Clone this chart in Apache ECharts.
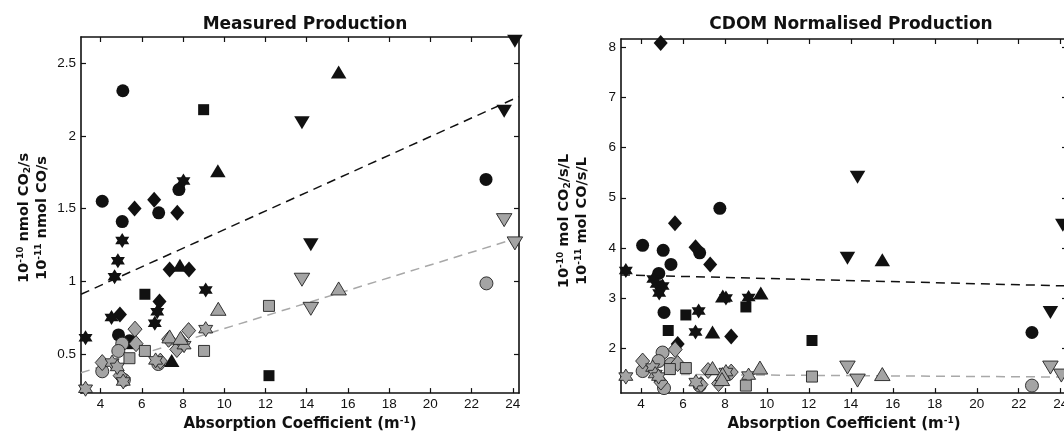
<!DOCTYPE html>
<html><head><meta charset="utf-8">
<script src="https://cdn.jsdelivr.net/npm/echarts@6/dist/echarts.min.js"></script>
<style>html,body{margin:0;padding:0;background:#fff;overflow:hidden}#c{width:1072px;height:437px}</style>
</head><body><div id="c"></div>
<script>
// ---------- DATA ----------
const xTicks = [4, 6, 8, 10, 12, 14, 16, 18, 20, 22, 24];
const yTicksMeasured = [0.5, 1, 1.5, 2, 2.5];
const yTicksNorm = [2, 3, 4, 5, 6, 7, 8];
const xRange = [3.05, 24.3];
const yRangeMeasured = [0.23, 2.68];
const yRangeNorm = [1.1, 8.17];

// Measured production, CO2 (black, 1e-10 nmol/s)
const mCO2_circle = [[5.08,2.31],[4.08,1.55],[5.05,1.41],[6.82,1.47],[7.8,1.63],[22.7,1.70],[4.87,0.63],[5.4,0.59]];
const mCO2_diamond = [[5.65,1.50],[6.6,1.56],[7.72,1.47],[7.35,1.08],[8.29,1.08],[6.86,0.86],[4.94,0.77]];
const mCO2_star = [[8.02,1.69],[5.05,1.28],[4.84,1.14],[4.68,1.03],[9.1,0.94],[6.75,0.79],[6.63,0.71],[4.53,0.75],[3.27,0.61]];
const mCO2_square = [[9.0,2.18],[12.17,0.35],[6.15,0.91],[5.35,0.57]];
const mCO2_triUp = [[9.69,1.76],[15.55,2.44],[7.85,1.11],[7.45,0.455]];
const mCO2_triDown = [[13.77,2.09],[23.58,2.17],[24.1,2.65],[14.2,1.25]];
// Measured production, CO (grey, 1e-11 nmol/s)
const mCO_circle = [[5.05,0.57],[4.86,0.52],[4.08,0.38],[5.13,0.32],[6.8,0.43],[22.72,0.985]];
const mCO_diamond = [[5.67,0.67],[5.72,0.57],[4.08,0.44],[4.95,0.35],[6.9,0.45],[8.27,0.66],[7.7,0.53],[7.95,0.58],[7.3,0.6]];
const mCO_star = [[4.56,0.44],[4.81,0.41],[5.1,0.31],[3.27,0.26],[6.67,0.455],[9.1,0.67],[8.05,0.56]];
const mCO_square = [[5.4,0.47],[6.15,0.52],[9.02,0.52],[12.17,0.83]];
const mCO_triUp = [[9.71,0.81],[7.35,0.62],[7.88,0.61],[15.55,0.95]];
const mCO_triDown = [[13.77,1.01],[14.2,0.81],[23.58,1.42],[24.1,1.26]];
// CDOM normalised, CO2 (black)
const nCO2_circle = [[4.08,4.05],[5.06,3.95],[5.43,3.67],[6.8,3.9],[4.85,3.49],[5.1,2.71],[7.76,4.79],[22.63,2.31]];
const nCO2_diamond = [[4.94,8.09],[5.62,4.49],[6.6,4.01],[7.3,3.67],[8.3,2.23],[5.75,2.08]];
const nCO2_star = [[3.28,3.55],[4.59,3.38],[4.75,3.28],[5.03,3.24],[4.87,3.1],[8.05,3.0],[9.13,3.01],[6.75,2.74],[6.6,2.32]];
const nCO2_square = [[5.3,2.35],[6.14,2.66],[9.0,2.82],[12.15,2.15]];
const nCO2_triUp = [[7.9,3.04],[9.71,3.1],[15.5,3.76],[7.41,2.32]];
const nCO2_triDown = [[13.84,3.79],[14.32,5.41],[23.51,2.71],[24.1,4.45]];
// CDOM normalised, CO (grey)
const nCO_circle = [[5.03,1.91],[4.84,1.74],[4.08,1.54],[5.43,1.68],[5.1,1.2],[6.8,1.25],[22.63,1.25]];
const nCO_diamond = [[5.63,1.97],[4.08,1.74],[5.75,1.69],[4.95,1.32],[6.86,1.27],[7.2,1.55],[8.3,1.52],[7.7,1.29]];
const nCO_star = [[3.28,1.43],[4.56,1.61],[4.68,1.48],[4.84,1.43],[6.62,1.32],[8.05,1.52],[9.13,1.45]];
const nCO_square = [[5.38,1.58],[6.14,1.6],[9.0,1.25],[12.15,1.43]];
const nCO_triUp = [[7.41,1.6],[7.89,1.48],[7.86,1.38],[9.67,1.61],[15.5,1.48]];
const nCO_triDown = [[13.84,1.61],[14.32,1.35],[23.51,1.61],[24.03,1.45]];
// Regression lines (end points)
const mCO2_fit = [[3.05,0.91],[24.3,2.27]];
const mCO_fit = [[3.05,0.37],[24.3,1.30]];
const nCO2_fit = [[3.05,3.46],[24.3,3.24]];
const nCO_fit = [[3.05,1.48],[24.3,1.42]];

// ---------- STYLE ----------
const BOLD = "'DejaVu Sans', sans-serif";
const REG = "'Liberation Sans', Arial, sans-serif";
const INK = '#111';
const GREY = '#a4a4a4';
const HEX = 'path://M0,-10L2.887,-5L8.66,-5L5.774,0L8.66,5L2.887,5L0,10L-2.887,5L-8.66,5L-5.774,0L-8.66,-5L-2.887,-5Z';
const TRI_DOWN = 'path://M0,0L10,0L5,8.66Z';
const SHAPES = {
  circle: {symbol: 'circle', size: 13},
  diamond: {symbol: 'diamond', size: [14, 16]},
  star: {symbol: HEX, size: [14, 15]},
  square: {symbol: 'rect', size: 11},
  triUp: {symbol: 'triangle', size: [15.5, 13]},
  triDown: {symbol: TRI_DOWN, size: [15.5, 13]}
};
function sc(data, shape, grey, panel) {
  const s = SHAPES[shape];
  return {
    type: 'scatter', data: data, xAxisIndex: panel * 2, yAxisIndex: panel * 2,
    symbol: s.symbol, symbolSize: s.size, z: grey ? 3 : 2, clip: false,
    itemStyle: grey ? {color: GREY, borderColor: '#222', borderWidth: 0.9, opacity: 1}
                    : {color: INK, borderColor: INK, borderWidth: 0, opacity: 1},
    emphasis: {disabled: true}, silent: true
  };
}
function fit(data, grey, panel) {
  return {
    type: 'line', data: data, xAxisIndex: panel * 2, yAxisIndex: panel * 2,
    symbol: 'none', z: 1, silent: true,
    lineStyle: {color: grey ? '#a8a8a8' : INK, width: 1.5, type: [9, 6]}
  };
}
function xAx(panel, top) {
  return {
    type: 'value', gridIndex: panel, position: top ? 'top' : 'bottom',
    min: xRange[0], max: xRange[1],
    axisLine: {show: true, onZero: false, lineStyle: {color: INK, width: 1.6}},
    axisTick: {show: true, inside: true, length: 5, customValues: xTicks, lineStyle: {color: INK, width: 1.2}},
    axisLabel: {show: !top, customValues: xTicks, color: INK, fontSize: 13.5, fontFamily: REG, margin: 4},
    splitLine: {show: false},
    name: top ? '' : 'Absorption Coefficient (m{sup|-1})',
    nameLocation: 'middle', nameGap: 21,
    nameTextStyle: {color: INK, fontFamily: BOLD, fontWeight: 'bold', fontSize: 15,
      rich: {sup: {fontFamily: BOLD, fontWeight: 'bold', fontSize: 9, verticalAlign: 'top', color: INK, padding: [0, 0, 8, 0]}}}
  };
}
function yAx(panel, right, rng, ticks) {
  return {
    type: 'value', gridIndex: panel, position: right ? 'right' : 'left',
    min: rng[0], max: rng[1],
    axisLine: {show: true, onZero: false, lineStyle: {color: INK, width: 1.6}},
    axisTick: {show: true, inside: true, length: 5, customValues: ticks, lineStyle: {color: INK, width: 1.2}},
    axisLabel: {show: !right, customValues: ticks, color: INK, fontSize: 13.5, fontFamily: REG, margin: 5},
    splitLine: {show: false}
  };
}
const supRich = {
  b: {fontFamily: BOLD, fontWeight: 'bold', fontSize: 14.5, fill: INK, color: INK},
  sup: {fontFamily: BOLD, fontWeight: 'bold', fontSize: 9, fill: INK, color: INK, verticalAlign: 'top', padding: [0, 0, 7, 0]},
  sub: {fontFamily: BOLD, fontWeight: 'bold', fontSize: 9, fill: INK, color: INK, verticalAlign: 'bottom', padding: [6, 0, 0, 0]}
};
function ylab(x, y, text) {
  return {
    type: 'text', x: x, y: y, rotation: Math.PI / 2, silent: true,
    style: {text: text, rich: supRich, fill: INK, align: 'center', verticalAlign: 'middle',
      textAlign: 'center', textVerticalAlign: 'middle',
      fontFamily: BOLD, fontWeight: 'bold', fontSize: 14.5}
  };
}

const chart = echarts.init(document.getElementById('c'), null, {renderer: 'canvas'});
chart.setOption({
  animation: false,
  backgroundColor: '#fff',
  title: [
    {text: 'Measured Production', left: 300, top: 11, textAlign: 'center',
      textStyle: {fontFamily: BOLD, fontWeight: 'bold', fontSize: 17, color: INK}},
    {text: 'CDOM Normalised Production', left: 846, top: 11, textAlign: 'center',
      textStyle: {fontFamily: BOLD, fontWeight: 'bold', fontSize: 17, color: INK}}
  ],
  grid: [
    {left: 81, top: 37, width: 438, height: 361, containLabel: false},
    {left: 621, top: 39, width: 446, height: 360, containLabel: false}
  ],
  xAxis: [xAx(0, false), xAx(0, true), xAx(1, false), xAx(1, true)],
  yAxis: [
    yAx(0, false, yRangeMeasured, yTicksMeasured), yAx(0, true, yRangeMeasured, yTicksMeasured),
    yAx(1, false, yRangeNorm, yTicksNorm), yAx(1, true, yRangeNorm, yTicksNorm)
  ],
  graphic: [
    ylab(24, 218, '{b|10}{sup|-10}{b| nmol CO}{sub|2}{b|/s}'),
    ylab(42, 218, '{b|10}{sup|-11}{b| nmol CO/s}'),
    ylab(564, 221, '{b|10}{sup|-10}{b| mol CO}{sub|2}{b|/s/L}'),
    ylab(582, 221, '{b|10}{sup|-11}{b| mol CO/s/L}')
  ],
  series: [
    fit(mCO2_fit, false, 0), fit(mCO_fit, true, 0),
    fit(nCO2_fit, false, 1), fit(nCO_fit, true, 1),
    sc(mCO2_circle, 'circle', false, 0), sc(mCO2_diamond, 'diamond', false, 0),
    sc(mCO2_star, 'star', false, 0), sc(mCO2_square, 'square', false, 0),
    sc(mCO2_triUp, 'triUp', false, 0), sc(mCO2_triDown, 'triDown', false, 0),
    sc(mCO_circle, 'circle', true, 0), sc(mCO_diamond, 'diamond', true, 0),
    sc(mCO_star, 'star', true, 0), sc(mCO_square, 'square', true, 0),
    sc(mCO_triUp, 'triUp', true, 0), sc(mCO_triDown, 'triDown', true, 0),
    sc(nCO2_circle, 'circle', false, 1), sc(nCO2_diamond, 'diamond', false, 1),
    sc(nCO2_star, 'star', false, 1), sc(nCO2_square, 'square', false, 1),
    sc(nCO2_triUp, 'triUp', false, 1), sc(nCO2_triDown, 'triDown', false, 1),
    sc(nCO_circle, 'circle', true, 1), sc(nCO_diamond, 'diamond', true, 1),
    sc(nCO_star, 'star', true, 1), sc(nCO_square, 'square', true, 1),
    sc(nCO_triUp, 'triUp', true, 1), sc(nCO_triDown, 'triDown', true, 1)
  ]
});
</script></body></html>
